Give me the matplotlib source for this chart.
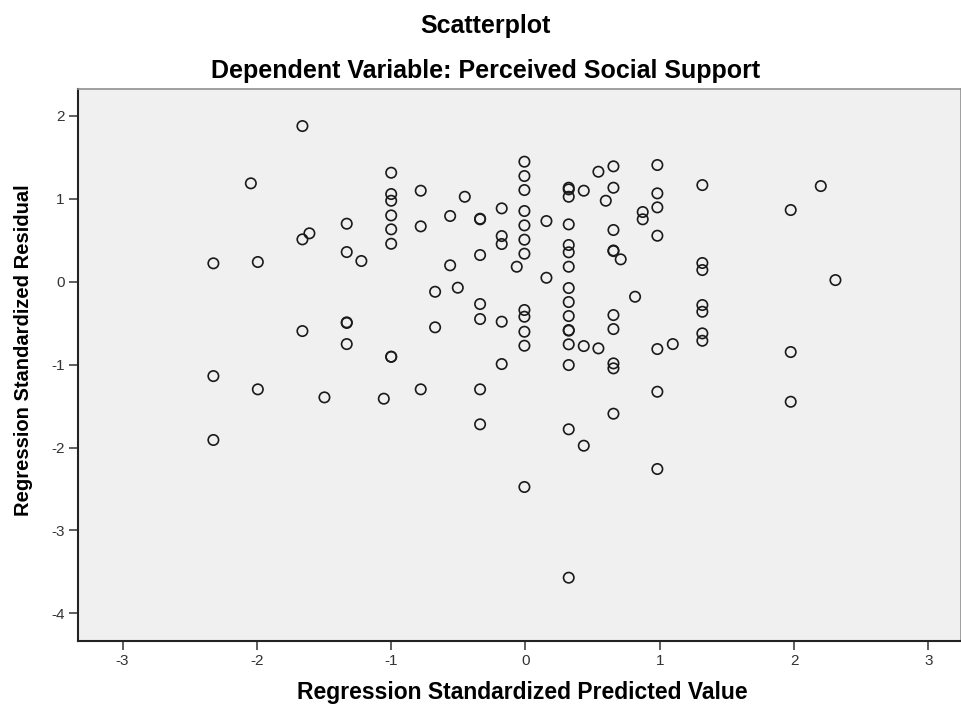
import matplotlib
matplotlib.use("Agg")
import matplotlib.pyplot as plt

# Standardized predicted values and residuals of the regression
pred = [-1.661, -2.045, -1.609, -1.661, -2.324, -1.993, -1.661,
        -2.324, -1.993, -2.324, -1.497,
        -1.0, -1.0, -1.0, -1.0, -1.0, -1.0, -1.0,
        -0.78, -0.78, -1.331, -1.331, -1.222,
        -0.452, -0.561, -0.338, -0.338, -0.177, -0.177, -0.177,
        -0.008, -0.008, -0.008, -0.008, -0.008, -0.008, -0.008,
        -0.338, -0.065, -0.561, 0.156, 0.156,
        0.322, 0.322, 0.322, 0.434, 0.543, 0.655, 0.655, 0.598,
        0.322, 0.322, 0.322, 0.322, 0.322, 0.322, 0.322, 0.322, 0.322, 0.322, 0.322,
        0.434, 0.543, 0.655, 0.655, 0.655, 0.709, 0.816, 0.655, 0.655, 0.655, 0.655,
        0.873, 0.873,
        -0.673, -0.504, -0.673, -0.338, -0.338, -0.177,
        -0.008, -0.008, -0.008, -0.008,
        -1.331, -1.331, -1.331, -1.0, -0.177,
        0.982, 0.982, 0.982, 0.982,
        1.317, 1.317, 1.317, 1.317, 1.317, 1.317, 1.317,
        2.199, 1.975, 2.308, 0.982, 1.097, 1.975,
        -1.055, -0.78, -0.338, -0.338, 0.655, 0.322, 0.434, -0.008, 0.322,
        0.982, 1.975, 0.982]
resid = [1.878, 1.187, 0.584, 0.511, 0.222, 0.238, -0.595,
         -1.138, -1.298, -1.909, -1.395,
         1.315, 1.058, 0.977, 0.80, 0.632, 0.458, -0.905,
         1.098, 0.668, 0.70, 0.358, 0.25,
         1.025, 0.793, 0.753, 0.76, 0.885, 0.551, 0.455,
         1.448, 1.275, 1.106, 0.853, 0.68, 0.507, 0.338,
         0.322, 0.181, 0.198, 0.732, 0.048,
         1.134, 1.114, 1.025, 1.098, 1.327, 1.392, 1.134, 0.977,
         0.692, 0.443, 0.355, 0.181, -0.076, -0.245, -0.414, -0.583, -0.59, -0.755, -1.005,
         -0.776, -0.804, 0.624, 0.37, 0.377, 0.27, -0.181, -0.402, -0.571, -0.985, -1.045,
         0.841, 0.753,
         -0.121, -0.072, -0.55, -0.269, -0.45, -0.482,
         -0.341, -0.422, -0.603, -0.772,
         -0.49, -0.497, -0.752, -0.905, -0.993,
         1.408, 1.066, 0.897, 0.555,
         1.166, 0.226, 0.141, -0.281, -0.362, -0.623, -0.712,
         1.154, 0.865, 0.02, -0.812, -0.752, -0.848,
         -1.411, -1.298, -1.298, -1.72, -1.592, -1.78, -1.978, -2.476, -3.57,
         -1.327, -1.448, -2.259]

xticks = [-3, -2, -1, 0, 1, 2, 3]
yticks = [-4, -3, -2, -1, 0, 1, 2]

font = "Liberation Sans"

fig = plt.figure(figsize=(9.61, 7.08), dpi=100)
ax = fig.add_axes([0.0809, 0.0946, 0.9191, 0.7797])
ax.set_facecolor("#f0f0f0")

ax.scatter(pred, resid, s=56, facecolors="none", edgecolors="#1a1a1a",
           linewidths=1.2, zorder=3)

ax.set_xlim(-3.334, 3.243)
ax.set_ylim(-4.334, 2.325)
ax.set_xticks(xticks)
ax.set_yticks(yticks)
ax.set_xticklabels([str(t) for t in xticks], fontname=font, fontsize=11, color="#333333")
ax.set_yticklabels([str(t) for t in yticks], fontname=font, fontsize=11, color="#333333")
ax.tick_params(direction="out", length=6.5, width=1.1, color="#333333", pad=3)

for side in ["left", "bottom"]:
    ax.spines[side].set_color("#222222")
    ax.spines[side].set_linewidth(1.5)
for side in ["top", "right"]:
    ax.spines[side].set_color("#909090")
    ax.spines[side].set_linewidth(1.2)

fig.text(0.5057, 0.9534, "Scatterplot", ha="center", va="baseline",
         fontname=font, fontweight="bold", fontsize=18)
fig.text(0.5057, 0.8898, "Dependent Variable: Perceived Social Support", ha="center",
         va="baseline", fontname=font, fontweight="bold", fontsize=18)
fig.text(0.5437, 0.0127, "Regression Standardized Predicted Value", ha="center",
         va="baseline", fontname=font, fontweight="bold", fontsize=16.5)
fig.text(0.024, 0.5056, "Regression Standardized Residual", ha="center",
         va="center", rotation=90, fontname=font, fontweight="bold", fontsize=14.5)

fig.savefig("out.png", dpi=100)
